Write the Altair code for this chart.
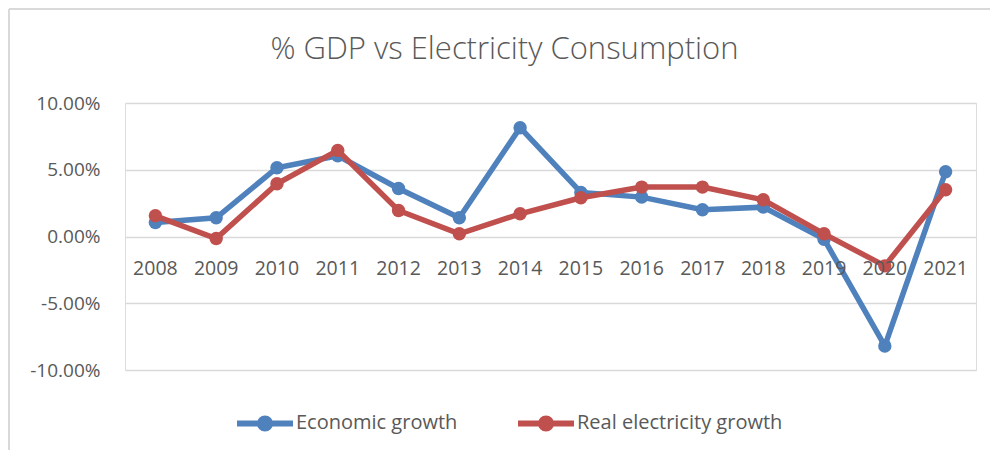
import altair as alt
import pandas as pd

years = [str(y) for y in range(2008, 2022)]
economic = [1.05, 1.4, 5.15, 6.05, 3.6, 1.4, 8.15, 3.3, 2.95, 2.0, 2.2, -0.2, -8.2, 4.85]
electricity = [1.55, -0.15, 3.95, 6.45, 1.95, 0.2, 1.7, 2.9, 3.7, 3.7, 2.75, 0.2, -2.2, 3.5]
series_names = ["Economic growth", "Real electricity growth"]
series_colors = ["#4f81bd", "#c0504d"]
y_ticks = [-0.10, -0.05, 0.0, 0.05, 0.10]

rows = []
for name, vals in zip(series_names, [economic, electricity]):
    for y, v in zip(years, vals):
        rows.append({"year": y, "value": v / 100.0, "series": name})
df = pd.DataFrame(rows)
labels_df = pd.DataFrame({"year": years})

FONT = "Open Sans"
GREY = "#595959"
W, H = 851, 267
PL, PT, PR, PB = 117, 95, 14, 80

xscale = alt.Scale(type="point", padding=0.5, domain=years)
yscale = alt.Scale(domain=[-0.10, 0.10])
cscale = alt.Scale(domain=series_names, range=series_colors)

sym_path = ("M-1,0H1"
            "M-0.107,0A0.107,0.107,0,1,0,0.107,0A0.107,0.107,0,1,0,-0.107,0"
            "M-0.179,0A0.179,0.179,0,1,0,0.179,0A0.179,0.179,0,1,0,-0.179,0")

base = alt.Chart(df)

layers = []
for name in series_names:
    sub = base.transform_filter(alt.datum.series == name)
    line = sub.mark_line(strokeWidth=5.5).encode(
        x=alt.X("year:O", scale=xscale, axis=None),
        y=alt.Y("value:Q", scale=yscale,
                axis=alt.Axis(values=y_ticks, title=None,
                              labelExpr="replace(format(datum.value, '.2%'), '\u2212', '-')",
                              grid=True, gridColor="#d9d9d9", gridWidth=1.5,
                              domain=False, ticks=False, labelPadding=25,
                              labelFont=FONT, labelFontSize=19, labelColor=GREY)),
        color=alt.Color("series:N", scale=cscale, sort=series_names,
                        legend=alt.Legend(title=None, orient="none",
                                          direction="horizontal",
                                          legendX=109, legendY=289,
                                          symbolType=sym_path, symbolSize=3136,
                                          symbolStrokeWidth=6, symbolOpacity=1,
                                          labelFont=FONT, labelFontSize=20,
                                          labelColor=GREY, labelOffset=0,
                                          labelLimit=400,
                                          columnPadding=48, padding=0)),
    )
    pts = sub.mark_circle(size=180, opacity=1).encode(
        x=alt.X("year:O", scale=xscale, axis=None),
        y=alt.Y("value:Q", scale=yscale),
        fill=alt.Fill("series:N", scale=cscale, legend=None),
    )
    layers += [line, pts]

xlabels = alt.Chart(labels_df).mark_text(
    font=FONT, fontSize=19.5, color=GREY, baseline="alphabetic", dy=38
).encode(
    x=alt.X("year:O", scale=xscale, axis=None),
    y=alt.datum(0),
    text="year:N",
)

frame_top = alt.Chart(labels_df).mark_rule(color="#d9d9d9", strokeWidth=1.5).encode(
    x=alt.value(-PL + 1), x2=alt.value(W + PR), y=alt.value(-PT + 1)
)
frame_left = alt.Chart(labels_df).mark_rule(color="#d9d9d9", strokeWidth=1.5).encode(
    x=alt.value(-PL + 1), y=alt.value(-PT + 1), y2=alt.value(H + PB)
)

chart = alt.layer(frame_top, frame_left, *layers, xlabels).resolve_scale(
    color="shared", fill="independent"
).properties(
    width=W, height=H,
    padding={"left": PL, "top": PT, "right": PR, "bottom": PB},
    autosize=alt.AutoSizeParams(type="none"),
    title=alt.TitleParams("% GDP vs Electricity Consumption", font=FONT,
                          fontSize=31, fontWeight=300, color=GREY,
                          anchor="middle", frame="group", dx=-46,
                          baseline="alphabetic", offset=-82),
).configure_view(stroke=None).configure(background="white")

chart.save("out.html", embed_options={"renderer": "svg", "actions": False})
